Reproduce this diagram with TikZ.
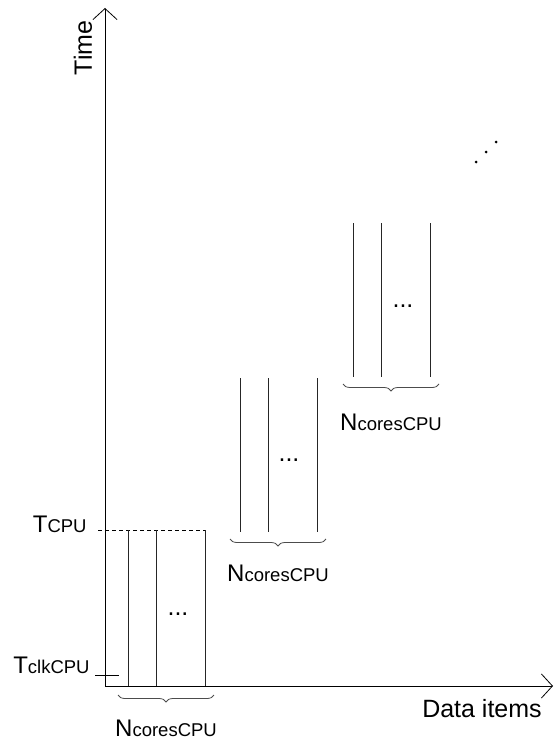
\documentclass[tikz,border=0pt]{standalone}
\usepackage{fontspec}
\setmainfont{Liberation Sans}
\usetikzlibrary{arrows.meta, decorations.pathreplacing}

\newcommand{\subtext}[2]{{\fontsize{24}{28}\selectfont #1}{\fontsize{18.5}{22}\selectfont #2}}

\begin{document}
\begin{tikzpicture}[
    x=1pt, y=-1pt,
    line width=0.8pt,
    axis/.style={
        -{Straight Barb[length=11pt,width=24pt]}
    },
    core/.style={
        draw=black!85
    },
    brace/.style={
        decorate,
        decoration={brace, mirror, amplitude=7pt},
        draw=black!70
    },
    lbl/.style={
        font=\fontsize{25}{29}\selectfont,
        inner sep=0pt
    },
    count/.style={
        anchor=base,
        inner sep=0pt
    },
    gap/.style={
        anchor=base,
        inner sep=0pt,
        font=\fontsize{25}{29}\selectfont
    }
]
    \useasboundingbox (0,0) rectangle (555,741);

    % Axes
    \coordinate (origin) at (105,686);
    \coordinate (ytop) at (105,8);
    \coordinate (xend) at (553,686);
    \draw[axis] (origin) -- (ytop);
    \draw[axis] (origin) -- (xend);
    \node[lbl, rotate=90] (time) at (83,48) {Time};
    \node[lbl] (items) at (482,709) {Data items};

    % Time marks
    \draw[dash pattern=on 4pt off 3pt] (98,530) -- (205,530);
    \draw (95,675) -- (119,675);
    \node[anchor=base east, inner sep=0pt] (tcpu) at (87,532) {\subtext{T}{CPU}};
    \node[anchor=base east, inner sep=0pt] (tclk) at (90,673) {\subtext{T}{clkCPU}};

    % First batch
    \draw[core] (128,530) -- (128,686);
    \draw[core] (156,530) -- (156,686);
    \draw[core] (205,530) -- (205,686);
    \node[gap] (dots1) at (178,615) {...};
    \draw[brace] (118,695) -- (214,695);
    \node[count] (n1) at (166,736) {\subtext{N}{coresCPU}};

    % Second batch
    \draw[core] (240,378) -- (240,532);
    \draw[core] (268,378) -- (268,532);
    \draw[core] (317,378) -- (317,532);
    \node[gap] (dots2) at (289,461) {...};
    \draw[brace] (230,539) -- (326,539);
    \node[count] (n2) at (278,581) {\subtext{N}{coresCPU}};

    % Third batch
    \draw[core] (353,223) -- (353,377);
    \draw[core] (381,223) -- (381,377);
    \draw[core] (430,223) -- (430,377);
    \node[gap] (dots3) at (403,307) {...};
    \draw[brace] (343,384) -- (439,384);
    \node[count] (n3) at (391,430) {\subtext{N}{coresCPU}};

    % More batches
    \fill (476,162) circle (1.5pt);
    \fill (486,152) circle (1.5pt);
    \fill (496,142) circle (1.5pt);

\end{tikzpicture}
\end{document}
